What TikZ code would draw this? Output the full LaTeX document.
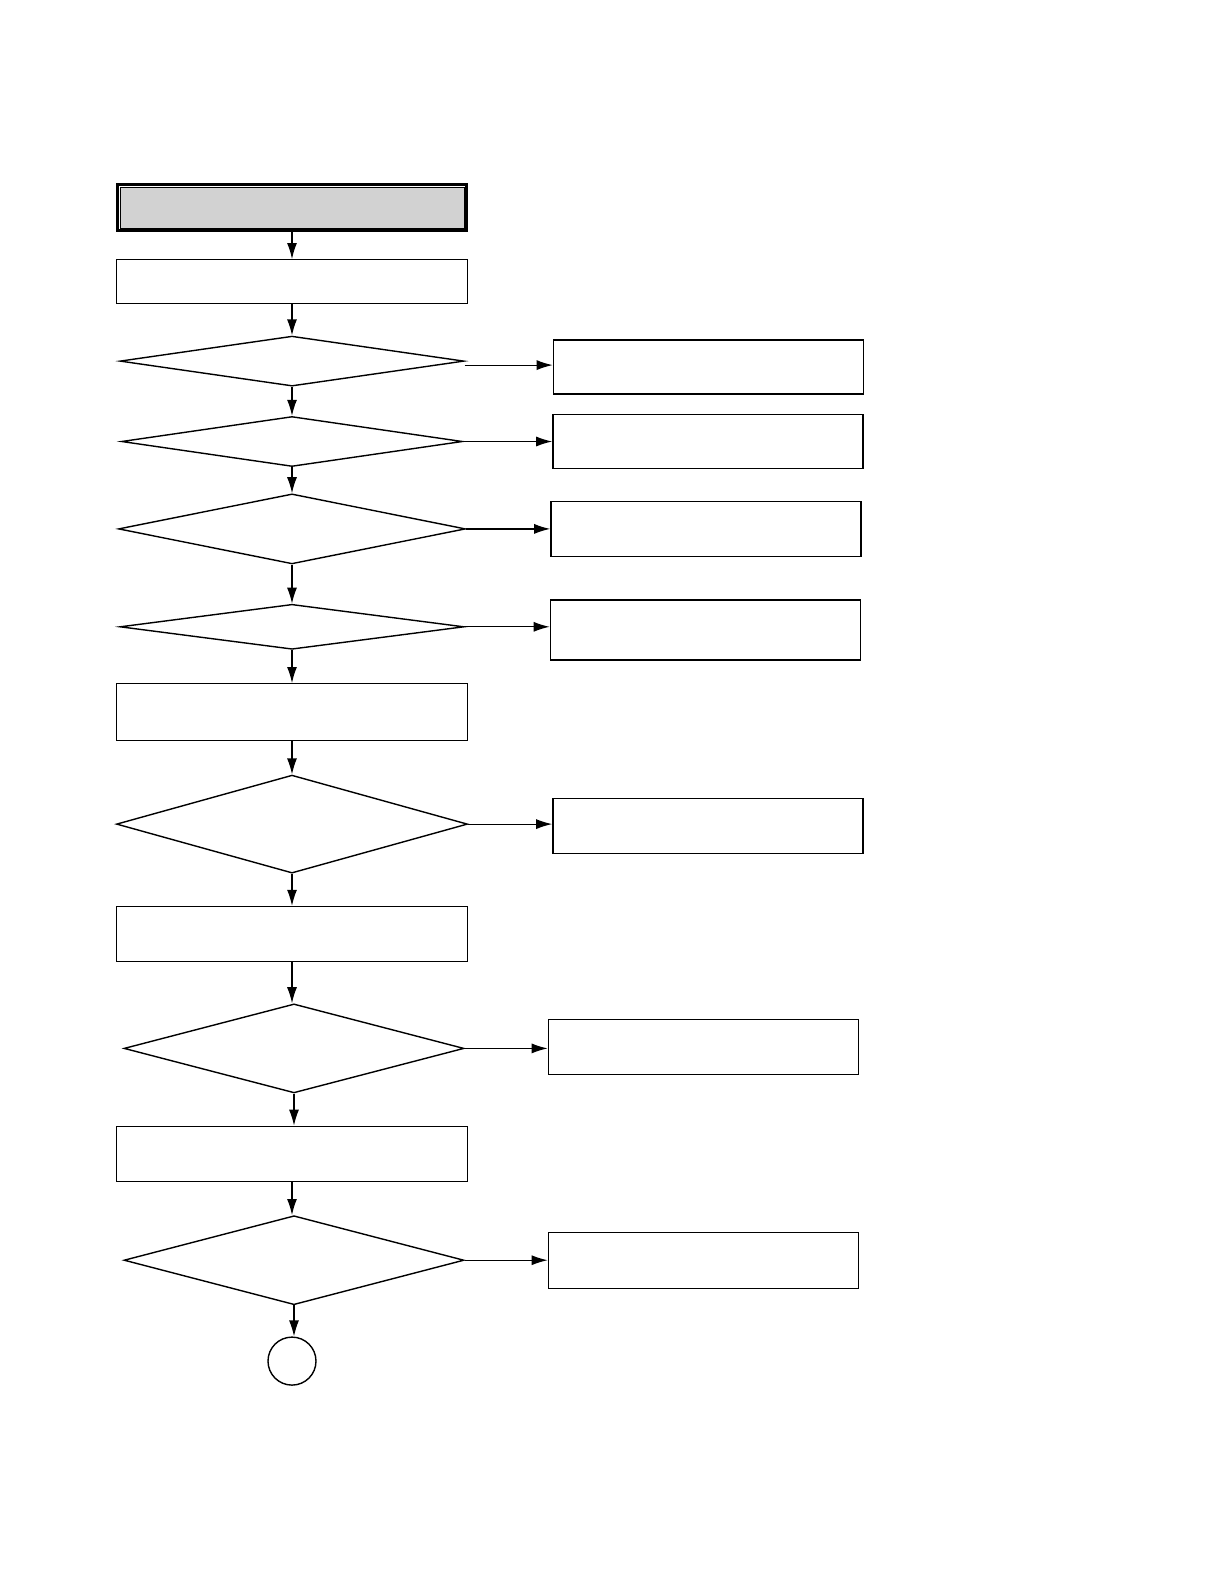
\documentclass[tikz,border=0pt]{standalone}
\usepackage{tikz}
\usetikzlibrary{positioning,arrows.meta,shapes.geometric}

\begin{document}
\begin{tikzpicture}[
    x=1pt, y=-1pt,
    line width=1.4pt,
    step_box/.style={rectangle, draw, minimum width=351pt, inner sep=0pt},
    check/.style={diamond, draw, inner sep=0pt},
    out_box/.style={rectangle, draw, minimum width=310pt, minimum height=55pt, inner sep=0pt},
    end_node/.style={circle, draw, minimum size=48pt, inner sep=0pt},
    flow/.style={-{Latex[length=16pt,width=10pt]}, line width=1.2pt}
]
\useasboundingbox (0,0) rectangle (1220,1588);

% Start block
\node[rectangle, draw, line width=3pt, minimum width=349pt, minimum height=46pt] (start) at (292,207.5) {};
\draw[fill=gray!35, line width=0.8pt] ([shift={(4pt,-4pt)}]start.north west) rectangle ([shift={(-4pt,4pt)}]start.south east);

% Main column
\node[step_box, minimum height=44pt, below=27pt of start] (prep) {};
\node[check, minimum width=344pt, minimum height=50pt, below=31pt of prep] (chk1) {};
\node[check, minimum width=341pt, minimum height=50pt, below=29pt of chk1] (chk2) {};
\node[check, minimum width=347pt, minimum height=70pt, below=26pt of chk2] (chk3) {};
\node[check, minimum width=344pt, minimum height=45pt, below=39pt of chk3] (chk4) {};
\node[step_box, minimum height=57pt, below=33pt of chk4] (set1) {};
\node[check, minimum width=351pt, minimum height=98pt, below=33pt of set1] (chk5) {};
\node[step_box, minimum height=55pt, below=32pt of chk5] (set2) {};
\node[check, minimum width=340pt, minimum height=89pt, below=41pt of set2, xshift=2pt] (chk6) {};
\node[step_box, minimum height=55pt, below=32pt of chk6, xshift=-2pt] (set3) {};
\node[check, minimum width=340pt, minimum height=89pt, below=33pt of set3, xshift=2pt] (chk7) {};
\node[end_node, below=31pt of chk7, xshift=-2pt] (stop) {};

% Side results
\node[out_box, minimum height=54pt, right=88pt of chk1, yshift=-6pt] (res1) {};
\node[out_box, minimum height=54pt, right=89pt of chk2] (res2) {};
\node[out_box, right=84pt of chk3] (res3) {};
\node[out_box, minimum height=60pt, right=85pt of chk4, yshift=-3pt] (res4) {};
\node[out_box, right=84pt of chk5, yshift=-2pt] (res5) {};
\node[out_box, right=83pt of chk6, yshift=1.5pt] (res6) {};
\node[out_box, minimum height=56pt, right=83pt of chk7] (res7) {};

% Downward flow
\draw[flow] (start) -- (prep);
\draw[flow] (prep) -- (chk1);
\draw[flow] (chk1) -- (chk2);
\draw[flow] (chk2) -- (chk3);
\draw[flow] (chk3) -- (chk4);
\draw[flow] (chk4) -- (set1);
\draw[flow] (set1) -- (chk5);
\draw[flow] (chk5) -- (set2);
\draw[flow] (set2.south) -- (set2.south |- chk6.north);
\draw[flow] (chk6.south) -- (chk6.south |- set3.north);
\draw[flow] (set3.south) -- (set3.south |- chk7.north);
\draw[flow] (chk7.south) -- (chk7.south |- stop.north);

% Branches to the right
\draw[flow] ([yshift=-4pt]chk1.east) -- ([yshift=-4pt]chk1.east -| res1.west);
\draw[flow] (chk2.east) -- (chk2.east -| res2.west);
\draw[flow] (chk3.east) -- (chk3.east -| res3.west);
\draw[flow] (chk4.east) -- (chk4.east -| res4.west);
\draw[flow] (chk5.east) -- (chk5.east -| res5.west);
\draw[flow] (chk6.east) -- (chk6.east -| res6.west);
\draw[flow] (chk7.east) -- (chk7.east -| res7.west);

\end{tikzpicture}
\end{document}
